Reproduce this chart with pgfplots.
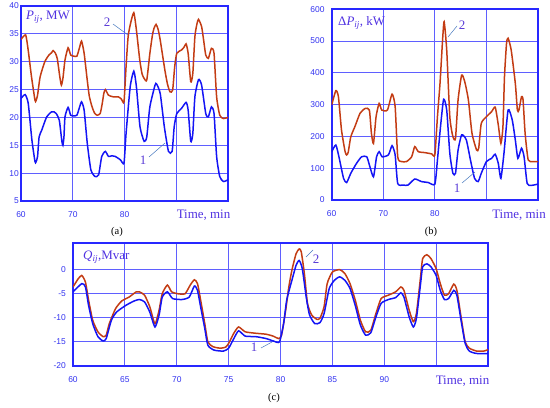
\documentclass[border=0pt]{standalone}
\usepackage{fontspec}
\setmainfont{Liberation Serif}
\setsansfont{Liberation Sans}
\usepackage{pgfplots}
\pgfplotsset{compat=1.18}
\definecolor{ser1}{RGB}{20,20,245}
\definecolor{ser2}{RGB}{195,60,20}
\definecolor{gridb}{RGB}{95,95,255}
\definecolor{frameb}{RGB}{40,40,255}
\definecolor{tickb}{RGB}{50,50,240}
\definecolor{txtb}{RGB}{80,50,225}
\definecolor{numb}{RGB}{90,60,215}
\definecolor{leadc}{RGB}{70,120,190}
\pgfplotsset{
  mypanel/.style={
    scale only axis,
    anchor=south west,
    axis line style={draw=frameb,line width=1.7bp},
    xmajorgrids=true, ymajorgrids=true,
    major grid style={draw=gridb,line width=1bp},
    major tick length=0pt,
    ticklabel style={font=\sffamily\fontsize{8.5}{9}\selectfont,color=tickb},
    xticklabel style={anchor=center,yshift=-14bp},
    xmin=60,xmax=100,
    every axis plot/.append style={line width=1.5bp,smooth,tension=0.35},
    /pgf/number format/assume math mode=true,
  }
}
\begin{document}
\begin{tikzpicture}[x=1bp,y=1bp]
\useasboundingbox (0,0) rectangle (550,407);
% ---------- panel (a)
\begin{axis}[mypanel,at={(21bp,206bp)},width=207bp,height=195bp,
  ymin=5,ymax=40,ytick={5,10,...,40},
  xtick={60,70,80,90},xticklabels={60,70,80,},
  yticklabel style={anchor=east,inner sep=0pt,xshift=-2bp}]
\addplot[ser2] coordinates {
(60,34.0)(60.9,34.8)(61.4,32.0)(62.0,27.5)(62.7,23.1)(62.9,23.0)(63.2,24.0)(63.7,27.3)(64.6,30.0)(65.4,31.2)(65.9,31.6)(66.2,32.0)(66.6,31.6)(67.0,30.6)(67.5,27.3)(67.8,25.8)(68.1,27.0)(68.5,30.3)(69.1,32.5)(69.6,31.2)(70.2,31.0)(70.8,31.0)(71.3,32.5)(71.7,33.7)(72.2,31.5)(72.8,26.7)(73.2,23.8)(73.7,22.0)(74.2,20.8)(74.7,20.4)(75.3,20.7)(75.7,22.5)(76.0,24.3)(76.3,25.0)(76.9,24.0)(77.8,23.7)(78.8,23.7)(79.4,23.3)(79.9,22.8)(80.3,29.1)(80.7,34.5)(81.2,37.0)(81.8,38.8)(82.3,35.7)(82.95,30.3)(83.4,27.8)(83.8,27.0)(84.3,26.7)(84.9,31.5)(85.4,34.8)(85.7,36.0)(86.1,36.7)(86.5,35.8)(86.9,33.9)(87.8,28.5)(88.3,26.0)(88.8,24.6)(89.3,24.9)(89.7,29.1)(90.1,31.5)(91.0,32.1)(91.5,32.6)(91.9,33.2)(92.3,31.5)(92.8,26.4)(93.2,27.9)(93.6,34.5)(94.0,36.8)(94.3,37.6)(94.9,36.3)(95.3,33.8)(95.7,31.2)(96.2,30.6)(96.8,32.4)(97.3,31.5)(97.8,23.7)(98.4,20.4)(99.1,19.8)(100,20.0)};
\addplot[ser1] coordinates {
(60,23.4)(60.8,24.1)(61.4,22.5)(62.1,16.0)(62.7,12.1)(62.9,12.0)(63.2,13.0)(63.5,16.5)(64.0,17.7)(64.96,20.1)(65.9,21.0)(66.4,21.0)(66.8,20.7)(67.4,19.5)(67.9,15.7)(68.1,15.0)(68.3,16.5)(68.5,20.1)(69.1,21.8)(69.6,20.4)(70.2,20.3)(70.8,20.4)(71.3,21.8)(71.7,22.8)(72.2,21.3)(72.8,15.4)(73.5,10.6)(74.3,9.4)(75.0,9.7)(75.6,13.0)(76.3,13.9)(76.9,13.0)(77.5,13.1)(78.2,13.0)(79.2,12.4)(79.9,11.8)(80.3,17.1)(81.1,25.5)(81.8,28.3)(82.3,25.5)(83.0,18.3)(83.8,15.7)(84.3,16.5)(84.9,21.9)(85.9,25.8)(86.2,26.0)(86.9,24.3)(87.7,18.3)(88.5,13.9)(89.2,13.9)(89.6,18.3)(90.1,20.7)(91.0,21.6)(91.9,22.7)(92.3,21.3)(92.8,15.7)(93.2,17.1)(93.6,23.7)(94.3,26.8)(94.9,25.8)(95.7,20.7)(96.2,20.1)(96.8,21.9)(97.3,20.7)(97.8,13.0)(98.4,9.4)(99.1,8.5)(100,8.8)};
\end{axis}
% ---------- panel (b)
\begin{axis}[mypanel,at={(331.7bp,207bp)},width=206.3bp,height=190.7bp,
  ymin=0,ymax=600,ytick={0,100,...,600},
  xtick={60,70,80,90},xticklabels={60,70,80,},
  yticklabel style={anchor=east,inner sep=0pt,xshift=-7bp}]
\addplot[ser2] coordinates {
(60,299)(60.8,344)(61.3,325)(61.9,220)(62.6,152)(62.9,142)(63.2,150)(63.7,199)(64.5,231)(65.5,273)(66.5,288)(67.3,283)(67.7,210)(68.1,178)(68.6,262)(69.2,304)(69.7,283)(70.8,283)(71.7,333)(72.3,294)(72.8,136)(73.5,121)(74.5,121)(75.5,136)(76.1,168)(76.8,152)(78.1,149)(79.4,145)(80.0,142)(80.5,262)(81.0,367)(81.5,504)(81.8,561)(82.3,472)(82.9,262)(83.5,199)(84.0,194)(84.5,315)(85.2,393)(85.8,372)(86.5,315)(87.2,210)(88.1,157)(88.5,163)(89.0,241)(90.0,262)(91.0,278)(91.7,292)(92.3,236)(92.8,178)(93.2,231)(93.5,388)(93.9,493)(94.2,509)(94.8,472)(95.6,367)(96.0,283)(96.3,283)(96.8,325)(97.1,315)(97.5,210)(98.1,126)(99.0,121)(100,121)};
\addplot[ser1] coordinates {
(60,152)(60.8,173)(61.4,136)(62.3,68)(62.9,55)(63.7,84)(64.8,115)(65.8,136)(66.8,136)(67.4,105)(68.1,73)(68.7,136)(69.2,152)(69.8,136)(71.0,142)(71.7,171)(72.3,142)(72.8,52)(73.9,47)(74.8,47)(76.1,66)(77.4,58)(78.7,55)(80.0,50)(80.5,126)(81.1,231)(81.7,317)(82.3,283)(82.9,147)(83.5,84)(84.0,84)(84.5,157)(85.2,205)(86.1,189)(86.9,126)(87.7,68)(88.4,58)(89.0,84)(90.0,121)(91.0,131)(91.7,144)(92.3,115)(92.8,68)(93.4,147)(94.2,283)(95.0,252)(95.6,189)(96.1,131)(96.8,163)(97.3,136)(97.9,52)(98.7,46)(100,50)};
\end{axis}
% ---------- panel (c)
\begin{axis}[mypanel,at={(73bp,41bp)},width=415bp,height=123.3bp,
  ymin=-20,ymax=5.59,ytick={-20,-15,...,0},
  xtick={60,65,...,95},xticklabels={60,65,70,75,80,85,90,},
  yticklabel style={anchor=east,inner sep=0pt,xshift=-7bp}]
\addplot[ser2] coordinates {
(60,-3.6)(60.5,-1.9)(60.85,-1.2)(61.2,-2.6)(61.5,-6.3)(61.9,-10.5)(62.4,-12.9)(62.9,-13.9)(63.2,-13.6)(63.5,-11.2)(64.1,-8.1)(64.7,-6.5)(65.4,-5.7)(66.1,-4.6)(66.4,-4.6)(66.9,-5.3)(67.4,-7.7)(67.8,-10.8)(67.95,-11.2)(68.3,-8.4)(68.6,-5.0)(69.1,-3.2)(69.5,-4.6)(70.1,-5.0)(70.8,-5.0)(71.3,-3.2)(71.7,-2.1)(72.0,-2.9)(72.3,-6.3)(72.7,-11.2)(73.0,-15.0)(73.5,-16.0)(74.2,-16.3)(74.7,-16.1)(75.0,-15.3)(75.5,-13.2)(75.96,-11.9)(76.6,-12.9)(77.6,-13.2)(78.6,-13.4)(79.3,-13.8)(79.8,-14.3)(80.1,-13.6)(80.5,-8.4)(80.8,-3.6)(81.1,-0.1)(81.5,3.3)(81.8,4.3)(82.0,3.7)(82.3,-0.8)(82.6,-7.0)(83.0,-9.4)(83.5,-10.3)(83.8,-10.1)(84.2,-7.7)(84.5,-2.9)(85.0,-0.5)(85.7,0.0)(86.2,-0.8)(86.7,-2.9)(87.2,-6.3)(87.7,-10.5)(88.2,-12.9)(88.7,-12.6)(89.2,-9.1)(89.7,-6.0)(90.4,-5.3)(91.1,-4.6)(91.6,-3.6)(91.9,-4.3)(92.4,-8.4)(92.8,-10.8)(93.1,-9.1)(93.5,-1.5)(93.7,2.3)(94.1,3.1)(94.5,2.3)(95.0,0.2)(95.4,-2.9)(95.8,-5.3)(96.2,-5.0)(96.7,-3.0)(97.0,-4.3)(97.4,-9.8)(97.8,-15.0)(98.2,-16.3)(98.9,-16.9)(99.6,-16.9)(100,-16.6)};
\addplot[ser1] coordinates {
(60,-4.6)(60.85,-2.9)(61.2,-3.6)(61.5,-7.4)(61.9,-11.2)(62.4,-13.9)(62.9,-14.8)(63.2,-14.3)(63.7,-10.5)(64.2,-8.8)(65.1,-7.4)(65.9,-6.5)(66.4,-6.2)(66.9,-6.7)(67.4,-8.8)(67.9,-11.9)(68.3,-9.4)(68.6,-5.7)(69.1,-4.6)(69.6,-6.0)(70.5,-6.2)(71.2,-5.7)(71.7,-3.4)(72.0,-4.3)(72.3,-7.7)(72.7,-12.2)(73.0,-15.7)(73.6,-16.7)(74.5,-16.9)(75.0,-16.3)(75.5,-14.3)(75.96,-12.7)(76.6,-13.8)(77.6,-13.9)(78.6,-14.3)(79.3,-14.8)(79.9,-15.0)(80.3,-11.2)(80.6,-6.3)(81.1,-2.2)(81.5,0.9)(81.8,1.9)(82.1,0.2)(82.5,-6.0)(82.8,-9.4)(83.3,-11.2)(83.8,-11.0)(84.2,-9.1)(84.7,-3.9)(85.2,-2.2)(85.7,-1.5)(86.2,-2.2)(86.7,-3.9)(87.2,-7.4)(87.7,-11.5)(88.2,-13.6)(88.7,-13.1)(89.2,-9.8)(89.7,-7.0)(90.4,-6.2)(91.1,-5.8)(91.6,-4.8)(91.9,-5.7)(92.4,-9.8)(92.8,-11.9)(93.1,-10.1)(93.5,-2.9)(93.7,0.6)(94.1,1.2)(94.5,0.6)(95.0,-1.2)(95.4,-4.3)(95.8,-6.2)(96.2,-6.0)(96.7,-4.3)(97.0,-5.3)(97.4,-10.5)(97.8,-15.3)(98.2,-16.9)(98.9,-17.4)(100,-17.4)};
\end{axis}
% ---------- annotations
\begin{scope}[font=\fontsize{13}{14}\selectfont]
\node[anchor=west,text=txtb,inner sep=0pt] at (26,390) {\textit{P}\textsubscript{\textit{ij}}, MW};
\node[anchor=west,text=txtb,inner sep=0pt] at (338,384) {Δ\textit{P}\textsubscript{\textit{ij}}, kW};
\node[anchor=west,text=txtb,inner sep=0pt] at (83,150) {\textit{Q}\textsubscript{\textit{ij}},Mvar};
\node[text=txtb] at (203.5,192) {Time, min};
\node[text=txtb] at (519,192) {Time, min};
\node[text=txtb] at (462.5,26) {Time, min};
\node[text=numb] at (107,385) {2};
\node[text=numb] at (143,247) {1};
\node[text=numb] at (462,382) {2};
\node[text=numb] at (457,219) {1};
\node[text=numb,fill=white,inner sep=1pt] at (316,148) {2};
\node[text=numb] at (254,60) {1};
\end{scope}
\begin{scope}[font=\fontsize{10.5}{12}\selectfont]
\node at (117,175) {(a)};
\node at (431,175) {(b)};
\node at (274,9) {(c)};
\end{scope}
\draw[leadc,line width=0.5bp] (113,383)--(128,372);
\draw[leadc,line width=0.5bp] (149,250)--(165,264);
\draw[leadc,line width=0.5bp] (457,381)--(448,370);
\draw[leadc,line width=0.5bp] (462,224)--(475,235);
\draw[leadc,line width=0.5bp] (313,157)--(306,150);
\draw[leadc,line width=0.5bp] (261,59)--(272,65);
\end{tikzpicture}
\end{document}
